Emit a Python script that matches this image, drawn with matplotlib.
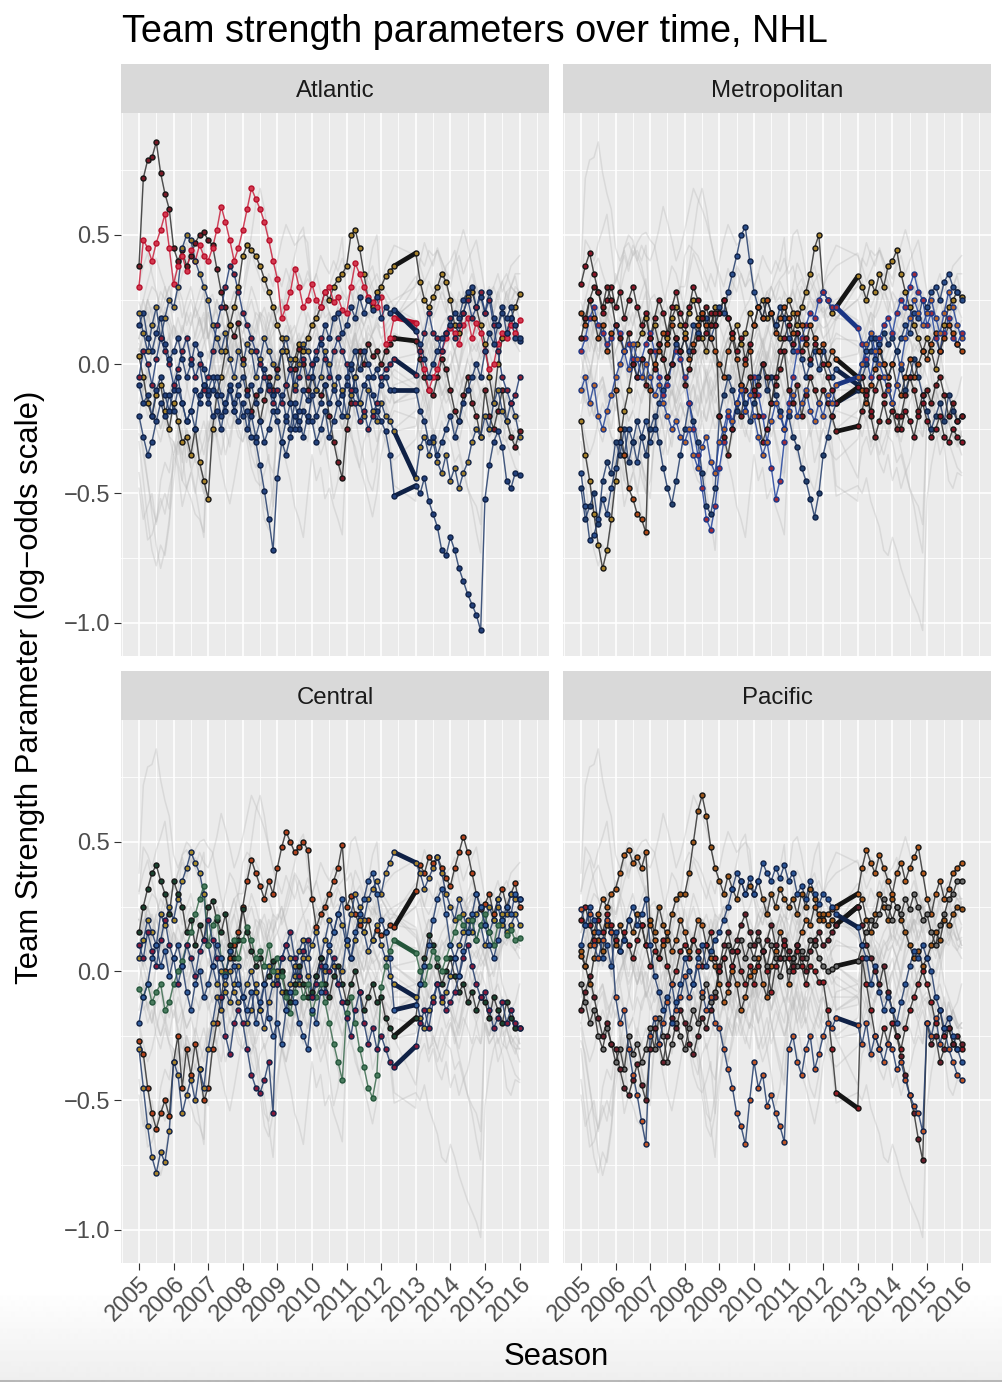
import numpy as np
import matplotlib
matplotlib.use("Agg")
import matplotlib.pyplot as plt

plt.rcParams["font.family"] = ["Liberation Sans", "DejaVu Sans"]

# ==== DATA ====
# rating dates: 8 per season, nothing between 2012.375 and 2013.0 (lockout)
dates = np.concatenate([np.arange(2005, 2012.4, 0.125), np.arange(2013, 2016.01, 0.125)])

# --- Atlantic ---
ott = [.38, .72, .79, .80, .86, .74, .66, .60,
       .45, .40, .44, .38, .42, .47, .50, .51,
       .48, .46, .37, .28, .22, .15, .11, .16,
       .02, -.10, -.18, -.12, -.22, -.14, -.05, -.10,
       -.02, .05, -.08, -.15, -.02, .06, .00, -.10,
       -.05, -.10, -.12, -.08, -.20, -.30, -.38, -.44,
       -.25, -.15, -.05, .05, .00, .08, .03, .05,
       .00, .05, .08, .10,
       .09, .02, -.05, -.10, -.12, -.05, .02, -.02,
       -.10, -.18, -.22, -.12, -.05, -.15, -.20, -.28,
       -.10, -.20, -.25, -.18, -.10, -.22, -.28, -.32,
       -.26]
bos = [.03, -.05, -.15, -.20, -.12, -.08, -.18, -.25,
       -.15, -.22, -.30, -.28, -.35, -.25, -.38, -.45,
       -.52, -.25, -.12, -.05, .05, .15, .22, .30,
       .42, .46, .44, .42, .38, .33, .28, .22,
       .15, .10, .05, -.02, .02, .08, .05, .10,
       .15, .18, .22, .28, .25, .30, .33, .35,
       .38, .50, .52, .45, .35, .25, .22, .28,
       .30, .34, .36, .38,
       .43, .32, .25, .22, .26, .30, .35, .32,
       .25, .15, .12, .20, .26, .28, .22, .15,
       .08, -.05, -.15, .00, .10, .12, .18, .22,
       .27]
det = [.30, .48, .45, .40, .47, .52, .58, .45,
       .31, .38, .42, .36, .44, .40, .46, .42,
       .40, .45, .52, .61, .55, .48, .40, .45,
       .52, .60, .68, .64, .60, .55, .48, .40,
       .33, .18, .22, .28, .37, .30, .22, .25,
       .31, .25, .22, .28, .30, .24, .26, .21,
       .20, .30, .39, .35, .30, .26, .24, .22,
       .26, .08, .10, .18,
       .16, .05, -.02, -.10, -.05, -.02, .05, .10,
       .14, .12, .08, .15, .18, .10, .16, .12,
       .05, -.02, .00, .08, .12, .10, .15, .12,
       .17]
tor = [-.08, -.15, -.12, -.20, -.10, -.05, -.12, -.18,
       -.10, -.05, -.15, -.22, -.18, -.10, -.15, -.08,
       -.12, -.20, -.18, -.25, -.15, -.10, -.18, -.22,
       -.15, -.25, -.20, -.28, -.22, -.30, -.25, -.18,
       -.22, -.30, -.35, -.28, -.20, -.25, -.18, -.22,
       -.12, -.20, -.15, -.08, -.15, -.10, -.05, -.12,
       -.08, -.02, -.10, -.15, -.08, -.05, -.12, -.18,
       -.22, -.26, -.35, -.51,
       -.47, -.50, -.44, -.53, -.58, -.63, -.72, -.74,
       -.67, -.72, -.79, -.84, -.89, -.93, -.97, -1.03,
       -.52, -.39, -.30, -.26, -.32, -.45, -.48, -.42,
       -.43]
tbl = [.15, .20, .10, .05, .12, .18, .08, .02,
       .05, .10, .02, -.05, .00, .08, .04, -.02,
       -.10, -.05, -.12, -.20, -.15, -.08, -.18, -.12,
       -.20, -.18, -.28, -.30, -.39, -.49, -.60, -.72,
       -.44, -.30, -.22, -.15, -.25, -.18, -.10, -.14,
       -.05, .02, .08, .15, .10, .18, .20, .12,
       .15, .22, .18, .26, .20, .25, .21, .26,
       .18, .22, .20, .21,
       .13, .08, .02, -.05, .00, .05, .10, .12,
       .15, .20, .18, .25, .28, .30, .22, .26,
       .20, .28, .18, .15, .22, .12, .18, .10,
       .09]
buf = [.20, .12, .05, .15, .22, .10, .18, .25,
       .22, .30, .45, .50, .48, .40, .35, .30,
       .25, .15, .10, .05, .12, .02, -.05, .05,
       .00, .08, .05, -.05, .02, .10, .05, .00,
       -.05, .05, .10, .02, -.08, .00, .08, .05,
       .00, -.10, -.05, .05, .00, -.08, -.15, -.10,
       -.20, -.12, -.05, -.15, -.20, -.10, -.18, -.22,
       -.15, -.20, -.22, -.26,
       -.44, -.32, -.28, -.35, -.30, -.38, -.42, -.35,
       -.45, -.40, -.48, -.42, -.38, -.30, -.25, -.28,
       -.20, -.25, -.15, -.10, -.18, -.22, -.15, -.20,
       -.28]
mtl = [-.05, .05, .00, -.08, .02, .10, .05, .00,
       -.08, -.02, .05, .10, .02, -.05, .00, -.10,
       -.05, .05, .15, .22, .30, .38, .35, .28,
       .20, .15, .10, .05, .00, -.05, -.10, -.15,
       -.10, -.15, -.08, -.02, -.10, -.05, .02, -.05,
       .00, .05, .10, .02, -.05, .05, .10, .05,
       .00, -.10, -.15, -.22, -.18, -.25, -.20, -.15,
       -.05, -.02, .00, .02,
       -.04, .05, .12, .20, .12, .10, .05, .12,
       .18, .10, .15, .20, .25, .18, .22, .28,
       .20, .25, .15, .05, -.05, -.10, -.15, -.12,
       -.05]
fla = [-.20, -.28, -.35, -.30, -.22, -.15, -.20, -.12,
       -.18, -.10, -.15, -.22, -.18, -.25, -.12, -.08,
       -.15, -.10, -.05, -.12, -.18, -.10, -.15, -.08,
       -.05, -.12, -.08, -.15, -.10, -.02, -.08, -.12,
       -.18, -.12, -.20, -.25, -.15, -.22, -.28, -.20,
       -.22, -.30, -.25, -.18, -.28, -.22, -.15, -.20,
       -.05, .00, .05, -.02, .05, .00, -.05, -.02,
       -.08, -.05, -.10, -.10,
       -.10, -.18, -.22, -.30, -.28, -.35, -.30, -.25,
       -.20, -.28, -.22, -.15, -.10, -.05, .00, -.05,
       .05, .12, .08, .15, .20, .18, .22, .15,
       .10]

# --- Metropolitan ---
pit = [-.22, -.35, -.45, -.58, -.70, -.79, -.72, -.60,
       -.45, -.30, -.18, -.10, .00, .08, .12, .18,
       .10, .15, .08, .02, .10, .18, .22, .15,
       .12, .20, .25, .18, .10, .05, .15, .22,
       .20, .25, .18, .12, .15, .08, .12, .20,
       .15, .22, .25, .18, .20, .15, .10, .18,
       .25, .20, .15, .22, .28, .35, .45, .50,
       .28, .25, .20, .22,
       .34, .30, .25, .32, .28, .35, .30, .38,
       .40, .44, .35, .28, .22, .15, .10, .05,
       .10, .05, -.02, .05, .15, .22, .25, .28,
       .26]
wsh = [-.42, -.55, -.68, -.66, -.60, -.52, -.58, -.48,
       -.40, -.30, -.35, -.25, -.30, -.38, -.28, -.22,
       -.30, -.25, -.15, -.10, -.05, .00, .08, .05,
       .10, .05, .15, .12, .20, .18, .10, .15,
       .22, .20, .28, .35, .42, .50, .53, .40,
       .28, .22, .18, .25, .20, .15, .22, .18,
       .10, .05, .12, .02, -.05, .00, .05, -.02,
       .05, .00, -.05, -.02,
       -.08, .00, .05, .10, .02, .08, .00, -.05,
       .00, .05, .10, .15, .12, .20, .18, .25,
       .22, .28, .30, .25, .32, .35, .30, .28,
       .25]
cbj = [-.48, -.60, -.55, -.50, -.62, -.45, -.38, -.42,
       -.30, -.35, -.25, -.38, -.30, -.22, -.28, -.35,
       -.25, -.20, -.30, -.40, -.48, -.54, -.45, -.35,
       -.25, -.15, -.22, -.30, -.42, -.55, -.58, -.48,
       -.20, -.12, -.05, -.10, -.18, -.08, -.15, -.22,
       -.15, -.05, .00, -.10, -.05, -.12, -.18, -.25,
       -.20, -.28, -.32, -.40, -.45, -.52, -.59, -.50,
       -.35, -.28, -.20, -.15,
       -.10, -.05, .00, .05, .10, .05, .12, .08,
       .10, .05, -.02, -.10, -.05, .02, -.05, -.12,
       -.18, -.25, -.20, -.15, -.22, -.12, -.18, -.22,
       -.20]
nyr = [.05, .10, .18, .22, .15, .12, .08, .10,
       .15, .12, .05, .08, .02, -.05, .02, .08,
       .12, .05, -.05, -.12, -.08, .00, .05, .02,
       -.05, -.15, -.25, -.35, -.48, -.60, -.64, -.55,
       -.40, -.30, -.20, -.25, -.15, -.10, -.18, -.12,
       -.05, -.12, -.20, -.30, -.40, -.52, -.45, -.30,
       -.15, -.05, .05, .10, .15, .20, .18, .25,
       .28, .25, .22, .22,
       .14, .08, .02, -.05, .05, .10, .15, .18,
       .12, .20, .25, .22, .30, .35, .28, .25,
       .15, .20, .10, .05, .12, .18, .10, .08,
       .12]
njd = [.31, .38, .43, .35, .28, .20, .25, .30,
       .22, .28, .18, .25, .30, .22, .15, .20,
       .10, .18, .25, .20, .12, .22, .28, .20,
       .15, .22, .30, .25, .18, .12, .20, .15,
       .20, .25, .18, .12, .05, .10, .02, .08,
       -.10, -.20, -.30, -.25, -.15, -.05, .05, .10,
       .15, .08, .12, .05, .10, .02, .08, .05,
       .00, -.05, -.10, -.15,
       -.09, -.05, -.12, -.18, -.10, -.05, -.12, -.08,
       -.15, -.20, -.25, -.18, -.22, -.28, -.20, -.15,
       -.22, -.28, -.25, -.20, -.28, -.30, -.25, -.28,
       -.30]
phi = [.20, .15, .25, .18, .10, .15, .05, .12,
       -.10, -.25, -.35, -.48, -.52, -.58, -.60, -.65,
       -.10, .00, .05, .12, .08, .15, .10, .05,
       .10, .02, .08, .15, .20, .15, .10, .05,
       .00, -.05, .05, .10, .02, -.08, .00, .05,
       .15, .22, .18, .25, .20, .12, .18, .22,
       .18, .12, .20, .15, .08, .15, .10, .05,
       .08, .00, .05, .02,
       -.05, -.10, -.15, -.08, -.02, .05, .00, -.05,
       .00, -.08, -.12, -.05, .02, -.05, .00, .05,
       .02, .08, .12, .05, .10, .15, .12, .08,
       .05]
car = [.10, .18, .25, .30, .28, .22, .30, .25,
       .15, .10, .05, .12, .00, -.05, .02, -.08,
       .05, -.02, .08, .02, -.05, .00, .10, .05,
       -.08, -.02, .05, .10, .18, .22, .15, .20,
       -.20, -.28, -.35, -.25, -.15, -.20, -.10, -.05,
       -.12, -.08, .00, -.05, -.15, -.08, -.02, .05,
       -.10, -.15, -.08, -.20, -.12, -.05, -.10, -.15,
       -.10, -.15, -.20, -.26,
       -.24, -.18, -.10, -.20, -.28, -.22, -.15, -.22,
       -.18, -.25, -.20, -.12, -.05, -.10, -.18, -.12,
       -.10, -.15, -.08, -.05, -.12, -.20, -.15, -.22,
       -.20]
nyi = [-.10, -.05, -.15, -.08, -.20, -.25, -.18, -.12,
       -.05, .00, .05, -.02, .08, .02, -.05, .00,
       -.05, -.12, -.08, -.15, -.20, -.25, -.22, -.28,
       -.30, -.25, -.35, -.40, -.32, -.28, -.38, -.42,
       -.30, -.25, -.18, -.22, -.15, -.10, -.18, -.12,
       -.20, -.28, -.35, -.30, -.22, -.15, -.20, -.25,
       -.18, -.12, -.20, -.15, -.10, -.18, -.22, -.15,
       -.20, -.12, -.15, -.08,
       -.05, .00, .08, .12, .05, .00, -.05, -.10,
       -.15, -.08, .00, .10, .18, .25, .20, .15,
       .20, .25, .18, .12, .20, .28, .22, .15,
       .10]

# --- Central ---
chi = [-.27, -.32, -.45, -.55, -.61, -.55, -.50, -.56,
       -.35, -.25, -.45, -.30, -.40, -.28, -.38, -.50,
       -.45, -.30, -.20, -.10, .00, .05, .10, .15,
       .25, .35, .43, .38, .33, .28, .35, .30,
       .40, .48, .54, .50, .46, .48, .50, .47,
       .28, .17, .22, .25, .30, .35, .40, .49,
       .25, .29, .22, .18, .15, .20, .12, .16,
       .14, .15, .18, .17,
       .31, .41, .38, .44, .42, .44, .40, .36,
       .33, .40, .46, .52, .46, .38, .30, .24,
       .26, .30, .22, .28, .32, .25, .30, .34,
       .25]
stl = [-.30, -.45, -.60, -.72, -.78, -.70, -.74, -.62,
       -.35, -.40, -.55, -.48, -.42, -.50, -.38, -.45,
       -.30, -.20, -.10, -.15, -.05, .00, -.08, -.12,
       -.10, -.20, -.15, -.05, -.15, -.22, -.12, -.05,
       .00, -.08, -.15, -.05, .02, -.05, .05, -.02,
       -.10, -.02, .05, .00, .08, .02, -.05, .00,
       .12, .22, .30, .25, .20, .28, .32, .35,
       .30, .38, .42, .46,
       .42, .38, .32, .36, .40, .44, .38, .30,
       .25, .20, .28, .22, .15, .20, .12, .18,
       .10, .15, .20, .25, .18, .22, .30, .28,
       .28]
nsh = [.05, .12, .20, .15, .10, .22, .18, .25,
       .20, .28, .35, .40, .46, .42, .38, .30,
       .10, .02, -.05, .00, -.08, -.12, -.05, .02,
       -.10, -.05, .00, -.08, -.15, -.05, .02, -.05,
       -.02, .05, .10, .05, -.02, .08, .12, .05,
       .10, .15, .05, .12, .20, .15, .22, .18,
       .10, .05, .12, .20, .15, .08, .12, .18,
       .10, .05, -.02, -.05,
       -.10, -.18, -.22, -.15, -.10, -.05, -.12, -.08,
       -.02, .05, .10, .15, .20, .15, .22, .25,
       .18, .25, .20, .28, .22, .15, .18, .22,
       .18]
dal = [.15, .25, .32, .38, .41, .35, .30, .22,
       .35, .30, .25, .15, .20, .10, .18, .12,
       .25, .27, .20, .15, .22, .10, .05, .12,
       .24, .15, .08, .02, .05, -.05, -.02, .04,
       -.05, .00, -.08, -.12, -.05, .02, -.05, -.10,
       -.08, -.02, .05, -.05, -.10, -.02, .02, -.05,
       -.12, -.05, .00, -.08, -.15, -.10, -.05, -.12,
       -.10, -.18, -.22, -.25,
       -.18, -.05, .05, .14, .10, .02, -.05, .00,
       .05, -.02, -.08, -.05, -.12, -.08, -.15, -.10,
       -.12, -.18, -.10, -.15, -.20, -.12, -.18, -.22,
       -.22]
mnw = [-.07, -.10, -.05, -.12, -.08, -.05, -.15, -.12,
       -.05, .00, .04, .10, .15, .22, .28, .33,
       .10, .18, .21, .05, -.01, .08, .12, .05,
       .12, .17, .12, .05, .08, .02, .10, .00,
       .05, -.02, -.10, -.16, -.08, -.02, -.10, -.05,
       -.16, -.10, -.05, -.12, -.20, -.28, -.35, -.42,
       -.16, -.10, -.20, -.30, -.37, -.45, -.49, -.40,
       -.06, .02, .08, .12,
       .07, .00, -.05, .02, .08, .05, .00, .05,
       .10, .15, .21, .18, .15, .20, .12, .18,
       .22, .15, .10, .18, .20, .14, .16, .12,
       .13]
col = [.10, .05, .15, .08, .02, .12, .20, .10,
       .05, -.05, .02, .10, .05, -.02, .08, .12,
       .20, .12, .05, -.10, -.25, -.32, -.20, -.15,
       -.20, -.30, -.40, -.45, -.47, -.42, -.35, -.55,
       -.05, .05, .10, .15, .05, -.02, .08, .12,
       -.10, -.05, .02, -.08, .00, .05, -.05, -.12,
       -.18, -.25, -.15, -.08, -.20, -.28, -.22, -.30,
       -.25, -.30, -.35, -.37,
       -.29, -.20, -.15, -.22, -.12, -.05, -.10, -.15,
       -.12, -.08, -.02, .05, .10, .02, -.05, -.10,
       -.08, -.15, -.22, -.18, -.12, -.20, -.15, -.20,
       -.22]
wpg = [-.20, -.10, -.05, .05, .10, .02, .08, -.02,
       .05, .10, .02, -.08, -.15, -.05, .00, -.10,
       -.05, .02, .10, .05, -.02, .08, .02, -.05,
       -.10, -.15, -.08, -.20, -.12, -.05, -.18, -.25,
       -.20, -.28, -.15, -.08, -.12, -.20, -.25, -.30,
       -.15, -.20, -.08, .02, .10, .15, .22, .28,
       .12, .05, .15, .22, .28, .35, .38, .30,
       .20, .15, .05, -.15,
       -.13, -.05, .02, .10, .20, .28, .32, .22,
       .10, .05, -.02, .08, .15, .22, .30, .25,
       .18, .10, .05, .12, .20, .25, .22, .30,
       .28]

# --- Pacific ---
ana = [.06, .02, .10, .15, .22, .28, .25, .30,
       .32, .38, .45, .47, .42, .44, .40, .46,
       .18, .12, .05, .10, .15, .08, .12, .20,
       .15, .08, .12, .20, .18, .10, .05, .02,
       -.05, -.12, -.08, .00, -.05, -.15, -.10, -.02,
       .00, .05, -.05, -.10, .02, .08, .15, .10,
       -.05, .05, .10, .15, .20, .18, .25, .22,
       .20, .22, .24, .25,
       .30, .40, .47, .42, .38, .45, .40, .35,
       .30, .38, .42, .35, .40, .44, .48, .38,
       .28, .22, .30, .35, .28, .32, .38, .40,
       .42]
sjs = [.08, .02, -.05, .05, .12, .08, .18, .15,
       .10, .18, .12, .20, .15, .22, .18, .10,
       .20, .15, .25, .18, .12, .22, .28, .30,
       .30, .38, .50, .62, .68, .60, .48, .40,
       .35, .30, .37, .32, .28, .35, .30, .33,
       .30, .35, .28, .22, .30, .25, .32, .28,
       .25, .28, .22, .30, .25, .32, .28, .20,
       .22, .18, .20, .18,
       .25, .28, .20, .15, .22, .30, .25, .20,
       .28, .25, .20, .15, .10, .05, .08, .02,
       .05, .10, .15, .12, .20, .18, .22, .25,
       .24]
lak = [-.05, -.12, -.20, -.15, -.25, -.30, -.22, -.28,
       -.35, -.30, -.38, -.25, -.32, -.28, -.35, -.30,
       -.22, -.30, -.18, -.25, -.35, -.28, -.20, -.25,
       -.30, -.22, -.15, -.20, -.10, -.05, -.12, -.08,
       .00, .05, .10, .02, .08, .12, .05, .10,
       .05, .12, .08, .02, .10, .05, -.02, .05,
       .00, .05, .02, .08, .05, .12, .10, .05,
       .02, .00, .01, .02,
       .04, .10, .15, .20, .18, .22, .28, .25,
       .20, .25, .22, .28, .24, .30, .25, .20,
       .22, .15, .10, .18, .22, .28, .30, .35,
       .35]
cgy = [.20, .25, .18, .12, .20, .15, .22, .18,
       .12, .08, .15, .10, .05, .12, .18, .10,
       .02, .08, .05, .12, .02, -.05, .00, .08,
       .10, .05, .12, .08, .02, .10, .15, .05,
       .00, .05, -.05, .02, .08, .00, -.05, .02,
       -.05, .02, .08, .00, -.08, .02, .05, .10,
       .05, .00, .08, .02, -.05, .02, .00, -.04,
       -.04, -.15, -.30, -.47,
       -.53, .05, -.05, -.15, -.25, -.30, -.22, -.28,
       -.20, -.25, -.30, -.22, -.15, -.10, -.05, .00,
       -.05, -.12, -.20, -.15, -.25, -.22, -.28, -.30,
       -.30]
ari = [-.15, -.08, -.02, -.10, -.18, -.25, -.20, -.28,
       -.30, -.38, -.45, -.48, -.42, -.36, -.44, -.50,
       -.30, -.22, -.28, -.35, -.25, -.18, -.22, -.15,
       -.20, -.28, -.32, -.25, -.18, -.22, -.15, -.10,
       .02, .10, .15, .08, .12, .18, .22, .15,
       .10, .15, .08, .12, .18, .10, .05, .12,
       .08, .02, .10, .05, .00, .08, .12, .15,
       .10, .12, .15, .18,
       .25, .18, .10, .05, .00, -.05, .02, -.08,
       -.15, -.25, -.33, -.40, -.48, -.55, -.65, -.73,
       -.20, -.28, -.25, -.35, -.30, -.22, -.28, -.25,
       -.28]
edm = [.24, .18, .22, .10, .05, .12, .20, .15,
       -.10, -.20, -.15, -.30, -.40, -.48, -.58, -.67,
       -.25, -.18, -.28, -.20, -.12, -.05, -.15, -.10,
       -.02, -.10, -.05, .02, -.08, -.15, -.10, -.20,
       -.22, -.30, -.38, -.45, -.55, -.60, -.67, -.50,
       -.35, -.45, -.40, -.52, -.48, -.55, -.60, -.66,
       -.30, -.25, -.35, -.40, -.30, -.25, -.38, -.32,
       -.25, -.20, -.22, -.18,
       -.21, -.28, -.20, -.32, -.25, -.30, -.35, -.28,
       -.30, -.38, -.35, -.42, -.48, -.52, -.55, -.62,
       -.20, -.25, -.18, -.28, -.22, -.30, -.35, -.40,
       -.42]
van = [.10, .18, .25, .20, .15, .05, .10, .02,
       .15, .08, .12, .20, .25, .18, .22, .28,
       .10, -.02, -.08, -.15, -.10, -.20, -.12, -.05,
       .05, .00, -.05, .05, .10, .02, .08, .12,
       .15, .20, .25, .32, .38, .35, .30, .36,
       .30, .35, .42, .38, .35, .40, .36, .41,
       .35, .38, .30, .33, .28, .35, .30, .26,
       .30, .28, .25, .22,
       .17, .10, .05, -.05, .02, -.08, -.15, -.10,
       -.15, -.20, -.12, -.05, .02, .08, .05, .10,
       .05, .00, -.10, -.15, -.22, -.18, -.25, -.30,
       -.35]

divisions = ["Atlantic", "Metropolitan", "Central", "Pacific"]
division_teams = {
    "Atlantic": {"OTT": ott, "BOS": bos, "DET": det, "TOR": tor,
                 "TBL": tbl, "BUF": buf, "MTL": mtl, "FLA": fla},
    "Metropolitan": {"PIT": pit, "WSH": wsh, "CBJ": cbj, "NYR": nyr,
                     "NJD": njd, "PHI": phi, "CAR": car, "NYI": nyi},
    "Central": {"CHI": chi, "STL": stl, "NSH": nsh, "DAL": dal,
                "MIN": mnw, "COL": col, "WPG": wpg},
    "Pacific": {"ANA": ana, "SJS": sjs, "LAK": lak, "CGY": cgy,
                "ARI": ari, "EDM": edm, "VAN": van},
}

# ==== STYLE ====
# (line colour, point outline, point fill)
blk = ("#333333", "#151515")
nvy = ("#26406f", "#0f2146")
team_style = {
    "OTT": (*blk, "#7a1a26"), "BOS": (*blk, "#a8822a"), "DET": ("#cf2340", "#b80f2b", "#d33a50"),
    "TOR": (*nvy, "#23407a"), "TBL": (*nvy, "#264580"), "BUF": (*nvy, "#9c7d2c"),
    "MTL": ("#233f7a", "#0f2146", "#8c2035"), "FLA": (*nvy, "#25437c"),
    "PIT": (*blk, "#a8822a"), "WSH": (*nvy, "#2b4f8c"), "CBJ": (*nvy, "#24426f"),
    "NYR": ("#2447a3", "#1a3585", "#a02c3a"), "NJD": (*blk, "#8a1526"), "PHI": (*blk, "#b04a18"),
    "CAR": (*blk, "#7a1a20"), "NYI": ("#27479a", "#1a3580", "#b8652a"),
    "CHI": (*blk, "#b2421c"), "STL": (*nvy, "#a8822a"), "NSH": (*nvy, "#a88a2a"),
    "DAL": (*blk, "#1b4430"), "MIN": ("#3e6f52", "#24563b", "#4a7c5e"),
    "COL": (*nvy, "#861a3a"), "WPG": (*nvy, "#335f9e"),
    "ANA": (*blk, "#b45a1c"), "SJS": (*blk, "#9c561a"), "LAK": (*blk, "#6e6e6e"),
    "CGY": (*blk, "#951c24"), "ARI": (*blk, "#6a1f2b"), "EDM": (*nvy, "#c25626"),
    "VAN": (*nvy, "#2b5596"),
}

for div in divisions:
    for team, vals in division_teams[div].items():
        if len(vals) != len(dates):
            raise ValueError(f"{team}: {len(vals)} values, expected {len(dates)}")

lockout = 59  # last index before the 2012-13 gap

# ==== PLOT ====
W, H = 1002, 1382
fig = plt.figure(figsize=(W / 100, H / 100), dpi=100)

# screenshot-style shading at the bottom edge
bg = fig.add_axes([0, 0, 1, 1], zorder=-10)
shade = np.ones((H, 1))
shade[1290:, 0] = np.linspace(1.0, 0.935, H - 1290)
shade[-2:, 0] = 0.72
bg.imshow(shade, cmap="gray", vmin=0, vmax=1, aspect="auto", extent=(0, 1, 0, 1))
bg.axis("off")

panel_px = {"Atlantic": (121, 113), "Metropolitan": (563, 113),
            "Central": (121, 720), "Pacific": (563, 720)}
pw, ph, sh = 428, 543, 49

all_series = [v for d in divisions for v in division_teams[d].values()]

for div in divisions:
    x0, y0 = panel_px[div]
    ax = fig.add_axes([x0 / W, 1 - (y0 + ph) / H, pw / W, ph / H])
    ax.set_facecolor("#ebebeb")
    for s in ax.spines.values():
        s.set_visible(False)

    # every team in grey behind
    for vals in all_series:
        ax.plot(dates, vals, color="#b8b8b8", lw=1.1, alpha=0.35, zorder=2)

    teams = division_teams[div]
    for team, vals in teams.items():
        lc, ec, fc = team_style[team]
        v = np.asarray(vals)
        ax.plot(dates[:lockout + 1], v[:lockout + 1], color=lc, lw=1.0, alpha=0.85, zorder=3)
        ax.plot(dates[lockout + 1:], v[lockout + 1:], color=lc, lw=1.0, alpha=0.85, zorder=3)
        ax.plot(dates[lockout:lockout + 2], v[lockout:lockout + 2], color=ec, lw=3.4,
                solid_capstyle="round", zorder=3)
    for team, vals in teams.items():
        lc, ec, fc = team_style[team]
        ax.plot(dates, vals, ls="none", marker="o", ms=3.6, mfc=fc, mec=ec, mew=1.0, zorder=4)

    ax.set_xlim(2004.48, 2016.85)
    ax.set_ylim(-1.129, 0.972)
    ax.set_xticks(range(2005, 2017))
    ax.set_xticks(np.arange(2004.5, 2017, 1.0), minor=True)
    ax.set_yticks([-1.0, -0.5, 0.0, 0.5])
    ax.set_yticks([-0.75, -0.25, 0.25, 0.75], minor=True)
    ax.grid(which="major", color="white", lw=1.2)
    ax.grid(which="minor", color="white", lw=0.6)
    ax.set_axisbelow(True)
    ax.tick_params(which="minor", length=0)
    ax.tick_params(which="major", length=5, width=0.8, color="#333333",
                   labelsize=17, labelcolor="#4d4d4d")

    if x0 == 121:
        ax.set_yticklabels(["\u22121.0", "\u22120.5", "0.0", "0.5"])
        ax.tick_params(axis="y", pad=3)
    else:
        ax.tick_params(axis="y", length=0, labelleft=False)
    if y0 == 720:
        ax.set_xticklabels([str(y) for y in range(2005, 2017)], rotation=45,
                           ha="right", va="top", rotation_mode="anchor")
        ax.tick_params(axis="x", pad=2)
    else:
        ax.tick_params(axis="x", length=0, labelbottom=False)

    # facet strip
    sax = fig.add_axes([x0 / W, 1 - y0 / H, pw / W, sh / H])
    sax.set_facecolor("#d9d9d9")
    sax.set_xticks([])
    sax.set_yticks([])
    for s in sax.spines.values():
        s.set_visible(False)
    sax.text(0.5, 0.5, div, ha="center", va="center_baseline", fontsize=17.3,
             color="#1a1a1a", transform=sax.transAxes)

fig.text(122 / W, 1 - 41.7 / H, "Team strength parameters over time, NHL",
         ha="left", va="baseline", fontsize=27.3)
fig.text(556 / W, 1 - 1365 / H, "Season", ha="center", va="baseline", fontsize=22.3)
fig.text(30 / W, 1 - 687 / H, "Team Strength Parameter (log\u2212odds scale)",
         rotation=90, ha="center", va="center", fontsize=22.3)

fig.savefig("out.png", dpi=100)
